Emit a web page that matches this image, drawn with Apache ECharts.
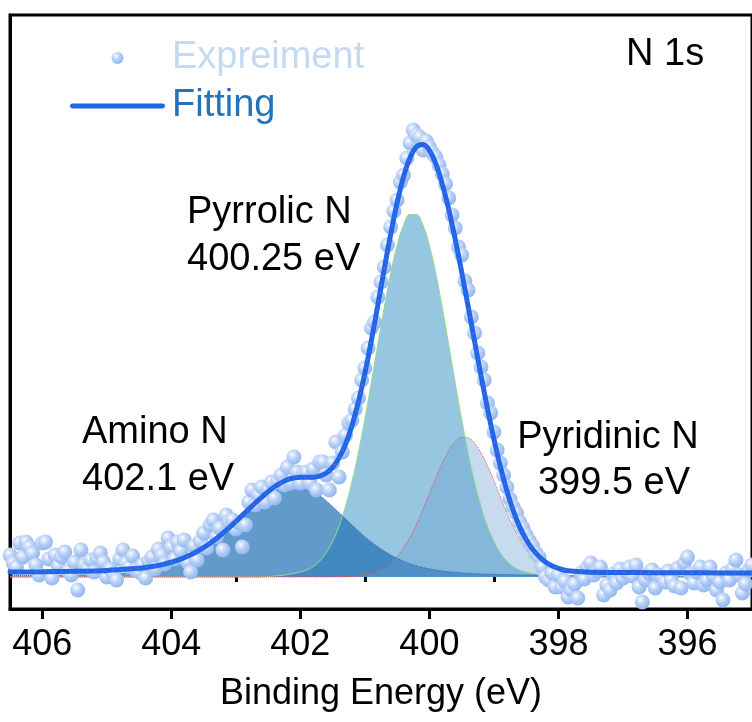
<!DOCTYPE html>
<html>
<head>
<meta charset="utf-8">
<script src="https://cdn.jsdelivr.net/npm/echarts@6.0.0/dist/echarts.min.js"></script>
<style>html,body{margin:0;padding:0;background:#fff}#main{width:752px;height:722px}</style>
</head>
<body>
<div id="main"></div>
<script>
// ---------- DATA ----------
const majorTicks = [396, 398, 400, 402, 404, 406];
const minorTicks = [395, 397, 399, 401, 403, 405];

// energy grid for the fitted curves (eV)
const fitEnergy = [406.5, 406.0, 405.5, 405.0,
  404.5, 404.4, 404.3, 404.2, 404.1, 404.0, 403.9, 403.8, 403.7, 403.6,
  403.5, 403.4, 403.3, 403.2, 403.1, 403.0, 402.9, 402.8, 402.7, 402.6,
  402.5, 402.4, 402.3, 402.2, 402.1, 402.0, 401.9, 401.8, 401.7, 401.6,
  401.5, 401.4, 401.3, 401.2, 401.1, 401.0, 400.9, 400.8, 400.7, 400.6,
  400.5, 400.4, 400.3, 400.2, 400.1, 400.0, 399.9, 399.8, 399.7, 399.6,
  399.5, 399.4, 399.3, 399.2, 399.1, 399.0, 398.9, 398.8, 398.7, 398.6,
  398.5, 398.4, 398.3, 398.2, 398.1, 398.0, 397.9, 397.8, 397.7, 397.6,
  397.5, 397.0, 396.5, 396.0, 395.5, 395.0];

const aminoN = [0.014, 0.017, 0.022, 0.031,
  0.053, 0.060, 0.070, 0.081, 0.095, 0.113, 0.133, 0.158, 0.187, 0.220,
  0.259, 0.302, 0.350, 0.403, 0.460, 0.520, 0.582, 0.644, 0.705, 0.762,
  0.814, 0.858, 0.892, 0.913, 0.920, 0.913, 0.892, 0.858, 0.814, 0.762,
  0.705, 0.644, 0.582, 0.520, 0.460, 0.403, 0.350, 0.302, 0.259, 0.220,
  0.187, 0.158, 0.133, 0.113, 0.095, 0.081, 0.070, 0.060, 0.053, 0.047,
  0.041, 0.037, 0.034, 0.031, 0.029, 0.027, 0.025, 0.024, 0.022, 0.021,
  0.020, 0.019, 0.018, 0.017, 0.016, 0.015, 0.015, 0.014, 0.014, 0.013,
  0.012, 0.010, 0.008, 0.007, 0.006, 0.005];

const pyrrolicN = [0, 0, 0, 0,
  0, 0, 0, 0, 0, 0, 0, 0, 0, 0,
  0, 0, 0, 0, 0, 0, 0, 0, 0, 0,
  0.005, 0.010, 0.015, 0.025, 0.035, 0.050, 0.070, 0.105, 0.160, 0.242,
  0.357, 0.510, 0.707, 0.952, 1.244, 1.578, 1.943, 2.322, 2.694, 3.034,
  3.317, 3.520, 3.626, 3.626, 3.520, 3.317, 3.034, 2.694, 2.322, 1.943,
  1.578, 1.244, 0.952, 0.707, 0.510, 0.357, 0.242, 0.160, 0.105, 0.070,
  0.050, 0.035, 0.025, 0.015, 0.010, 0.005, 0, 0, 0, 0,
  0, 0, 0, 0, 0, 0];

const pyridinicN = [0, 0, 0, 0,
  0, 0, 0, 0, 0, 0, 0, 0, 0, 0,
  0, 0, 0, 0, 0, 0, 0, 0, 0, 0,
  0, 0, 0, 0, 0, 0, 0, 0, 0, 0,
  0, 0.002, 0.003, 0.006, 0.012, 0.021, 0.035, 0.057, 0.091, 0.139,
  0.204, 0.291, 0.399, 0.528, 0.675, 0.833, 0.992, 1.140, 1.264, 1.352,
  1.396, 1.391, 1.338, 1.241, 1.112, 0.961, 0.801, 0.645, 0.501, 0.375,
  0.271, 0.189, 0.128, 0.083, 0.052, 0.032, 0.018, 0.010, 0.006, 0.003,
  0, 0, 0, 0, 0, 0];

const fitting = [0.049, 0.052, 0.057, 0.066,
  0.088, 0.095, 0.105, 0.116, 0.130, 0.148, 0.168, 0.193, 0.222, 0.255,
  0.294, 0.337, 0.385, 0.438, 0.495, 0.555, 0.617, 0.679, 0.740, 0.797,
  0.854, 0.903, 0.942, 0.973, 0.990, 0.998, 0.997, 0.998, 1.009, 1.039,
  1.097, 1.191, 1.327, 1.513, 1.751, 2.037, 2.363, 2.716, 3.079, 3.428,
  3.743, 4.004, 4.193, 4.302, 4.325, 4.266, 4.131, 3.929, 3.674, 3.377,
  3.050, 2.707, 2.359, 2.014, 1.686, 1.380, 1.103, 0.864, 0.663, 0.501,
  0.376, 0.278, 0.206, 0.150, 0.113, 0.087, 0.068, 0.059, 0.055, 0.051,
  0.047, 0.045, 0.043, 0.042, 0.041, 0.040];

// experimental points: 406.50 eV down to 395.00 eV, one every 0.05 eV
const expStart = 406.5;
const expStep = 0.05;
const expIntensity = [
  0.22, 0.14, 0.10, 0.34, 0.20, 0.35, 0.30, 0.24, 0.12, 0.02,
  0.34, 0.35, 0.18, -0.01, 0.22, 0.11, 0.20, 0.25, 0.06, 0.02,
  0.15, -0.13, 0.27, 0.12, 0.09, 0.17, 0.05, 0.19, 0.24, 0.15,
  0.00, 0.08, 0.03, -0.03, 0.18, 0.27, 0.14, 0.10, 0.21, 0.07,
  0.05, 0.12, -0.01, 0.16, 0.20, 0.08, 0.28, 0.22, 0.13, 0.39,
  0.30, 0.18, 0.35, 0.26, 0.37, 0.15, 0.05, 0.31, 0.17, 0.36,
  0.44, 0.29, 0.52, 0.57, 0.40, 0.49, 0.27, 0.62, 0.55, 0.57,
  0.48, 0.54, 0.30, 0.52, 0.75, 0.87, 0.72, 0.82, 0.90, 0.75,
  0.88, 0.95, 0.79, 0.96, 1.02, 0.92, 1.10, 0.94, 1.20, 1.05,
  0.94, 1.04, 1.05, 0.94, 1.08, 0.87, 1.15, 1.15, 1.02, 0.87,
  1.14, 1.35, 1.00, 1.25, 1.42, 1.54, 1.57, 1.68, 1.79, 1.97,
  2.09, 2.29, 2.49, 2.55, 2.80, 2.95, 3.10, 3.32, 3.50, 3.66,
  3.77, 3.95, 4.02, 4.19, 4.34, 4.47, 4.42, 4.40, 4.27, 4.36,
  4.30, 4.24, 4.20, 4.12, 4.03, 3.93, 3.79, 3.62, 3.49, 3.30,
  3.22, 2.96, 2.87, 2.60, 2.44, 2.24, 2.10, 1.97, 1.74, 1.64,
  1.45, 1.27, 1.14, 1.02, 0.90, 0.78, 0.70, 0.64, 0.55, 0.49,
  0.42, 0.36, 0.31, 0.24, 0.20, 0.10, 0.00, -0.03, 0.04, -0.10,
  0.02, -0.10, -0.04, -0.20, -0.13, -0.07, -0.21, 0.04, -0.02, 0.10,
  0.14, 0.02, 0.06, 0.10, -0.18, -0.08, -0.13, 0.03, -0.06, 0.08,
  -0.01, 0.05, 0.10, 0.01, 0.12, -0.10, -0.25, -0.03, 0.04, 0.07,
  -0.11, 0.02, 0.00, -0.05, 0.06, -0.03, -0.09, 0.09, -0.11, 0.14,
  0.20, 0.03, -0.06, 0.05, 0.10, -0.08, -0.03, 0.10, 0.01, -0.13,
  -0.05, -0.23, 0.04, -0.03, 0.08, 0.17, 0.02, -0.16, -0.07, 0.07,
  0.12];

const seriesNames = ['Expreiment', 'Fitting'];
const annotations = [
  { text: 'Pyrrolic N', x: 187, y: 213, align: 'left' },
  { text: '400.25 eV', x: 187, y: 260, align: 'left' },
  { text: 'Amino N', x: 82, y: 433, align: 'left' },
  { text: '402.1 eV', x: 82, y: 480, align: 'left' },
  { text: 'Pyridinic N', x: 608, y: 438, align: 'center' },
  { text: '399.5 eV', x: 614, y: 484, align: 'center' },
  { text: 'N 1s', x: 626, y: 55, align: 'left' }
];

// ---------- BUILD ----------
const FONT = "'Liberation Sans', Arial, sans-serif";
const pairs = (ys) => fitEnergy.map((e, i) => [e, ys[i]]);
const expData = expIntensity.map((v, i) => [+(expStart - expStep * i).toFixed(2), v]);

const chart = echarts.init(document.getElementById('main'), null, { renderer: 'canvas' });

const sphere = new echarts.graphic.RadialGradient(0.38, 0.34, 0.68, [
  { offset: 0, color: '#ffffff' },
  { offset: 0.2, color: '#dbe7fb' },
  { offset: 0.55, color: '#b1cbf5' },
  { offset: 1, color: '#92b6ef' }
]);

const lineIcon = 'path://M2.5,0 L95.5,0 A2.5,2.5 0 0 1 95.5,5 L2.5,5 A2.5,2.5 0 0 1 2.5,0 Z';

const option = {
  animation: false,
  backgroundColor: '#ffffff',
  textStyle: { fontFamily: FONT },
  grid: { left: 10, right: 0, top: 15, bottom: 113, show: true, borderColor: '#000', borderWidth: 3, backgroundColor: 'transparent' },
  legend: {
    orient: 'vertical', left: 70, top: 39, padding: 0, itemWidth: 95, itemHeight: 12, itemGap: 10,
    textStyle: { fontSize: 38, fontFamily: FONT },
    data: [
      { name: seriesNames[0], icon: 'circle', textStyle: { color: '#c5daf0', padding: [0, 0, 0, 2] } },
      { name: seriesNames[1], icon: lineIcon, itemStyle: { color: '#1d67e8' }, textStyle: { color: '#2473b8', padding: [0, 0, 0, 2] } }
    ]
  },
  xAxis: [{
    type: 'value', inverse: true, min: 395, max: 406.5,
    axisLine: { show: true, onZero: false, lineStyle: { color: '#000', width: 3 } },
    axisTick: { show: true, inside: false, length: 10, customValues: majorTicks, lineStyle: { color: '#000', width: 3 } },
    axisLabel: { show: true, customValues: majorTicks, fontSize: 36, color: '#000', margin: 18, fontFamily: FONT },
    splitLine: { show: false },
    name: 'Binding Energy (eV)', nameLocation: 'middle', nameGap: 67,
    nameTextStyle: { fontSize: 36, color: '#000', fontFamily: FONT }
  }, {
    type: 'value', inverse: true, min: 395, max: 406.5, position: 'bottom',
    axisLine: { show: false },
    axisTick: { show: true, inside: false, length: 5, customValues: minorTicks, lineStyle: { color: '#000', width: 3 } },
    axisLabel: { show: false }, splitLine: { show: false }
  }],
  yAxis: {
    type: 'value', min: -0.32, max: 5.62,
    axisLine: { show: true, onZero: false, lineStyle: { color: '#000', width: 3 } },
    axisTick: { show: false }, axisLabel: { show: false }, splitLine: { show: false }
  },
  series: [
    {
      name: 'Pyrrolic N', type: 'line', data: pairs(pyrrolicN), smooth: 0.4, symbol: 'none', z: 1,
      lineStyle: { color: '#8fdc8f', width: 1 },
      areaStyle: { color: '#97c6e0', opacity: 1 }
    },
    {
      name: 'Amino N', type: 'line', data: pairs(aminoN), smooth: 0.4, symbol: 'none', z: 1,
      lineStyle: { color: '#2d64c0', width: 1, type: 'dotted' },
      areaStyle: { color: 'rgba(31,111,180,0.7)', opacity: 1 }
    },
    {
      name: 'Pyridinic N', type: 'line', data: pairs(pyridinicN), smooth: 0.4, symbol: 'none', z: 1,
      lineStyle: { color: '#e0505a', width: 1, type: 'dotted' },
      areaStyle: { color: 'rgba(99,157,208,0.365)', opacity: 1 }
    },
    {
      name: seriesNames[0], type: 'scatter', data: expData, symbol: 'circle', symbolSize: 15, z: 3,
      itemStyle: { color: sphere, opacity: 1 }
    },
    {
      name: seriesNames[1], type: 'line', data: pairs(fitting), smooth: 0.4, symbol: 'none', z: 4,
      lineStyle: { color: '#1d67e8', width: 5, cap: 'round' }, itemStyle: { color: '#1d67e8' }
    },
    {
      name: 'envelope', type: 'line', data: pairs(fitting), smooth: 0.4, symbol: 'none', z: 5, silent: true,
      lineStyle: { color: '#d04fd0', width: 1.2, type: [1.5, 7], opacity: 0.8 }
    }
  ],
  graphic: annotations.map(a => ({
    type: 'text', x: a.x, y: a.y, z: 10,
    style: { text: a.text, fill: '#000', font: '38px ' + FONT, align: a.align, verticalAlign: 'middle' }
  }))
};
chart.setOption(option);
</script>
</body>
</html>
